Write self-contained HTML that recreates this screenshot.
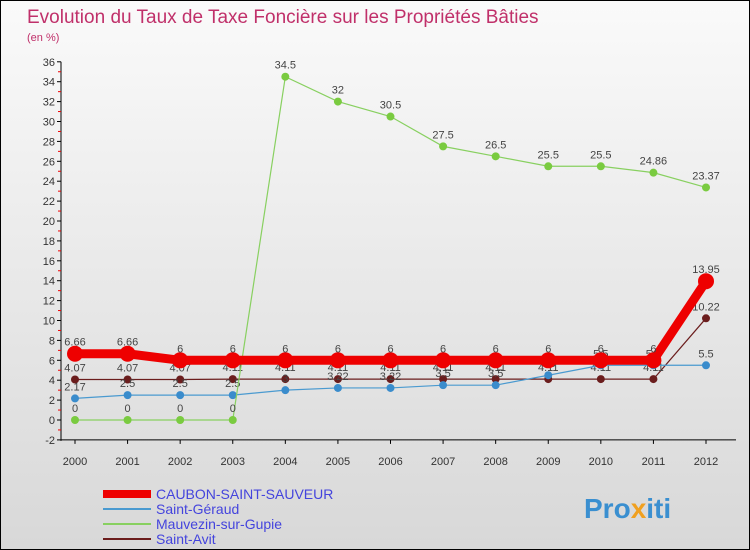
<!DOCTYPE html>
<html><head><meta charset="utf-8"><style>
body{margin:0;}
#wrap{position:relative;width:748px;height:548px;border:1px solid #000;background:linear-gradient(#fafafa,#d8d8d8);font-family:"Liberation Sans",sans-serif;overflow:hidden}
</style></head><body>
<div id="wrap">
<svg id="chart" width="748" height="548" xmlns="http://www.w3.org/2000/svg">
<text x="26" y="22" font-size="19" fill="#c0306a">Evolution du Taux de Taxe Foncière sur les Propriétés Bâties</text>
<text x="26" y="40" font-size="11" fill="#c0306a">(en %)</text>
<g id="axes"></g><g id="series"></g><g id="legend"></g>
<text x="583" y="517" font-size="28" font-weight="bold" fill="#3a8fd0">Pro<tspan fill="#f0a020">x</tspan>iti</text>
</svg></div>
<script>
const years=[2000,2001,2002,2003,2004,2005,2006,2007,2008,2009,2010,2011,2012];
const yTicks=[-2,0,2,4,6,8,10,12,14,16,18,20,22,24,26,28,30,32,34,36];
const caubon=[6.66,6.66,6,6,6,6,6,6,6,6,6,6,13.95];
const geraud=[2.17,2.5,2.5,2.5,3,3.22,3.22,3.5,3.5,4.5,5.5,5.5,5.5];
const mauvezin=[0,0,0,0,34.5,32,30.5,27.5,26.5,25.5,25.5,24.86,23.37];
const avit=[4.07,4.07,4.07,4.11,4.11,4.11,4.11,4.11,4.11,4.11,4.11,4.11,10.22];
const NS="http://www.w3.org/2000/svg";
const xs=i=>74+i*(705-74)/(years.length-1);
const ys=v=>419-v*9.95;
function mk(tag,attrs,parent){const e=document.createElementNS(NS,tag);for(const k in attrs)e.setAttribute(k,attrs[k]);parent.appendChild(e);return e;}
const axes=document.getElementById('axes');
let e=mk('line',{x1:60,y1:ys(36),x2:60,y2:ys(-2)+1,stroke:'#000'},axes);


e=mk('line',{x1:60,y1:ys(-2),x2:735,y2:ys(-2),stroke:'#000'},axes);


yTicks.forEach(t=>{
  mk('line',{x1:56,y1:ys(t),x2:60,y2:ys(t),stroke:'#000'},axes);
  if(t<36)mk('line',{x1:57,y1:ys(t+1),x2:60,y2:ys(t+1),stroke:'#e00'},axes);
  const tx=mk('text',{x:54,y:ys(t)+4,'font-size':11,fill:'#333','text-anchor':'end'},axes);
  tx.textContent=t;
  
  
});
years.forEach((y,i)=>{
  mk('line',{x1:xs(i),y1:ys(-2),x2:xs(i),y2:ys(-2)+4,stroke:'#000'},axes);
  const tx=mk('text',{x:xs(i),y:464,'font-size':11,fill:'#333','text-anchor':'middle'},axes);
  tx.textContent=y;
  
  
});
const sg=document.getElementById('series');
function series(data,color,lw,r,name,fill){
  const g=mk('g',{},sg);
  
  
  mk('polyline',{points:data.map((v,i)=>xs(i)+','+ys(v)).join(' '),fill:'none',stroke:color,'stroke-width':lw},g);
  data.forEach((v,i)=>{
    const c=mk('circle',{cx:xs(i),cy:ys(v),r:r,fill:fill},g);
    
    
    const t=mk('text',{x:xs(i),y:ys(v)-8,'font-size':11,fill:'#444','text-anchor':'middle'},g);
    t.textContent=v;
    
    
  });
}
series(avit,'#6b1d1d',1.2,4,'saint-avit','#6b1d1d');
series(geraud,'#4a9ad0',1.2,4,'saint-geraud','#3a8ccc');
series(mauvezin,'#88d060',1.2,4,'mauvezin','#7acb40');
series(caubon,'#ee0000',9,8,'caubon','#ee0000');
const lg=document.getElementById('legend');
const items=[['CAUBON-SAINT-SAUVEUR','#ee0000',8],['Saint-Géraud','#4a9ad0',2],['Mauvezin-sur-Gupie','#88d060',2],['Saint-Avit','#6b1d1d',2]];
items.forEach((it,i)=>{
  const y=493+i*15;
  const l=mk('line',{x1:102,y1:y,x2:150,y2:y,stroke:it[1],'stroke-width':it[2]},lg);
  
  
  const t=mk('text',{x:155,y:y+5,'font-size':14,fill:'#4444dd'},lg);
  t.textContent=it[0];
  
  
});
</script>
</body></html>
